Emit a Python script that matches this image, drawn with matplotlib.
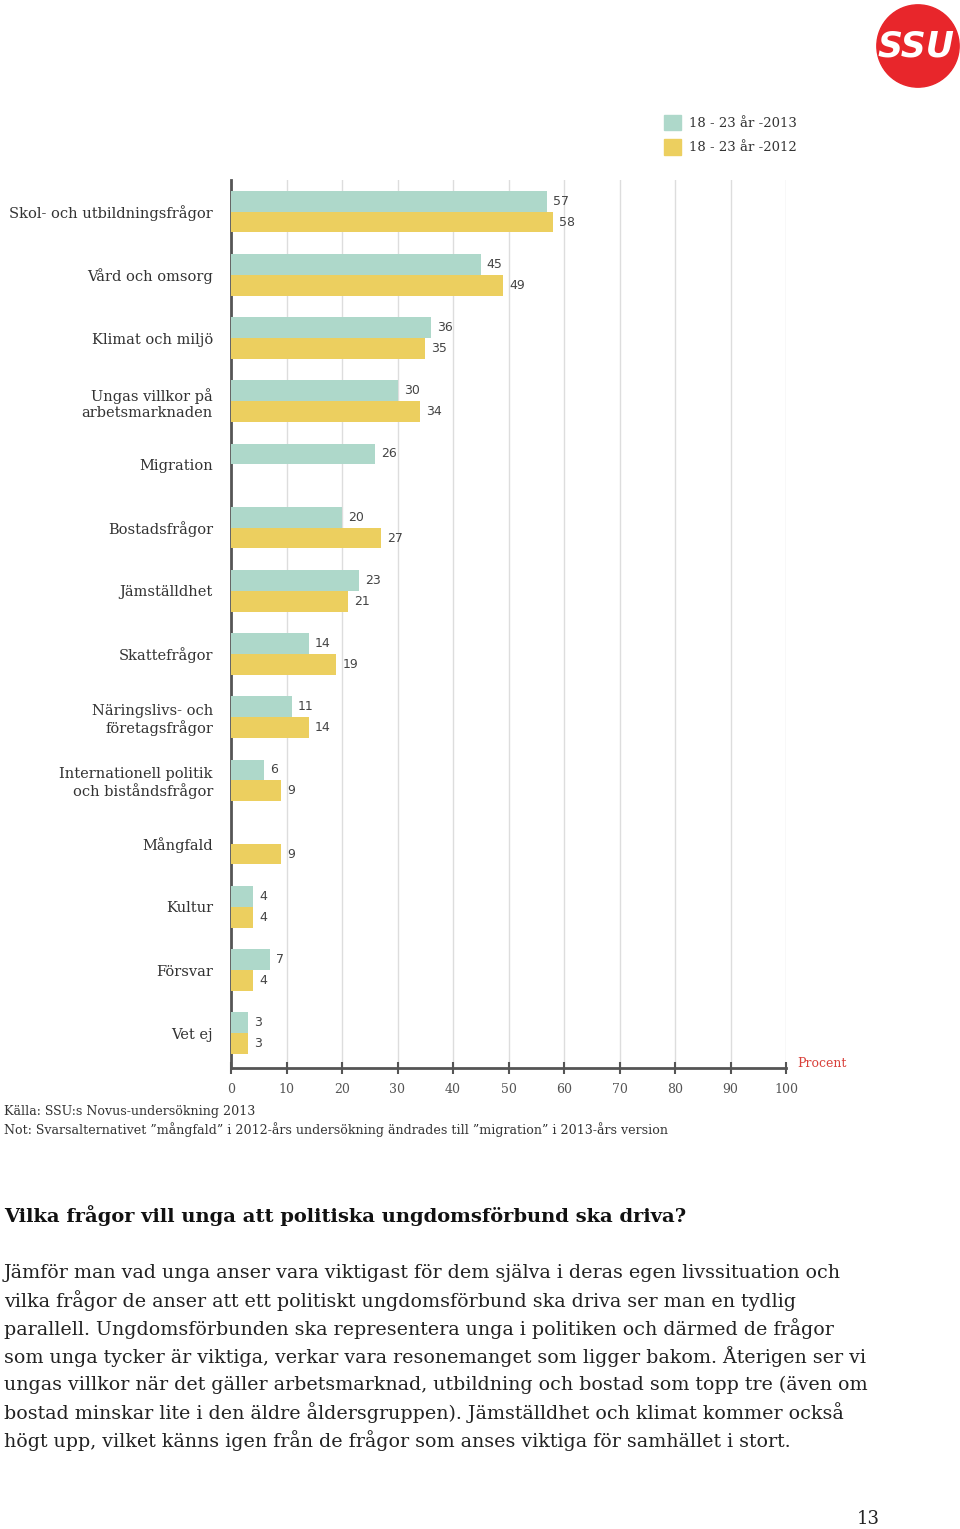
import numpy as np
import matplotlib
matplotlib.use('Agg')
import matplotlib.pyplot as plt
from matplotlib.patches import Patch, Circle

kategorier = ['Skol- och utbildningsfrågor', 'Vård och omsorg', 'Klimat och miljö',
              'Ungas villkor på\narbetsmarknaden', 'Migration', 'Bostadsfrågor',
              'Jämställdhet', 'Skattefrågor', 'Näringslivs- och\nföretagsfrågor',
              'Internationell politik\noch biståndsfrågor', 'Mångfald', 'Kultur',
              'Försvar', 'Vet ej']
varden_2013 = [57, 45, 36, 30, 26, 20, 23, 14, 11, 6, None, 4, 7, 3]
varden_2012 = [58, 49, 35, 34, None, 27, 21, 19, 14, 9, 9, 4, 4, 3]
serier = ['18 - 23 år -2013', '18 - 23 år -2012']
xticks = [0, 10, 20, 30, 40, 50, 60, 70, 80, 90, 100]

kallor = ['Källa: SSU:s Novus-undersökning 2013',
          'Not: Svarsalternativet ”mångfald” i 2012-års undersökning ändrades till ”migration” i 2013-års version']
rubrik = 'Vilka frågor vill unga att politiska ungdomsförbund ska driva?'
stycke = ['Jämför man vad unga anser vara viktigast för dem själva i deras egen livssituation och',
          'vilka frågor de anser att ett politiskt ungdomsförbund ska driva ser man en tydlig',
          'parallell. Ungdomsförbunden ska representera unga i politiken och därmed de frågor',
          'som unga tycker är viktiga, verkar vara resonemanget som ligger bakom. Återigen ser vi',
          'ungas villkor när det gäller arbetsmarknad, utbildning och bostad som topp tre (även om',
          'bostad minskar lite i den äldre åldersgruppen). Jämställdhet och klimat kommer också',
          'högt upp, vilket känns igen från de frågor som anses viktiga för samhället i stort.']

TEAL = '#aed8ca'
GUL = '#eccf5f'
GRA = '#555555'
SERIF = 'DejaVu Serif'

W, H = 960, 1529
fig = plt.figure(figsize=(W / 100, H / 100), dpi=100)

def fy(px):
    return 1 - px / H

ax = fig.add_axes([231 / W, fy(1068), 555 / W, (1068 - 180) / H])

y = np.arange(len(kategorier))
h = 0.33
for i in range(len(kategorier)):
    if varden_2013[i] is not None:
        ax.barh(y[i] - h / 2, varden_2013[i], height=h, color=TEAL, zorder=3)
        ax.text(varden_2013[i] + 1.1, y[i] - h / 2, str(varden_2013[i]), va='center',
                ha='left', fontsize=9, color='#444444', zorder=4)
    if varden_2012[i] is not None:
        ax.barh(y[i] + h / 2, varden_2012[i], height=h, color=GUL, zorder=3)
        ax.text(varden_2012[i] + 1.1, y[i] + h / 2, str(varden_2012[i]), va='center',
                ha='left', fontsize=9, color='#444444', zorder=4)

ax.set_xlim(0, 100)
ax.set_ylim(13.55, -0.5)
ax.set_yticks(y)
ax.set_yticklabels(kategorier, fontsize=10.5, family=SERIF, color='#333333')
ax.tick_params(axis='y', length=0, pad=13)
ax.set_xticks(xticks)
ax.set_xticklabels([str(t) for t in xticks], fontsize=9, family=SERIF, color=GRA)
ax.tick_params(axis='x', direction='inout', length=9, width=1.5, color=GRA, pad=6)
ax.xaxis.grid(True, color='#dddddd', lw=1, zorder=0)
ax.spines['top'].set_visible(False)
ax.spines['right'].set_visible(False)
ax.spines['left'].set_color(GRA)
ax.spines['left'].set_linewidth(2)
ax.spines['bottom'].set_color(GRA)
ax.spines['bottom'].set_linewidth(2)
ax.text(102, 13.48, 'Procent', color='#d9413b', fontsize=9, family=SERIF,
        va='center', ha='left', clip_on=False)

handtag = [Patch(color=TEAL), Patch(color=GUL)]
fig.legend(handtag, serier, loc='upper left', bbox_to_anchor=(652 / W, fy(103)),
           frameon=False, prop={'family': SERIF, 'size': 9.5}, handlelength=1.3,
           handleheight=1.4, handletextpad=0.6, labelspacing=0.7, labelcolor='#333333')

# logo
lax = fig.add_axes([876 / W, fy(88), 84 / W, 84 / H])
lax.set_xlim(-1, 1)
lax.set_ylim(-1, 1)
lax.set_aspect('equal')
lax.axis('off')
lax.add_patch(Circle((0, 0), 0.98, color='#e8262b'))
lax.text(-0.05, -0.02, 'SSU', color='white', fontsize=25, fontweight='bold', style='italic',
         ha='center', va='center', family='DejaVu Sans')

fig.text(4 / W, fy(1111), kallor[0], fontsize=9.1, family=SERIF, color='#333333', va='center')
fig.text(4 / W, fy(1130), kallor[1], fontsize=9.1, family=SERIF, color='#333333', va='center')

fig.text(4 / W, fy(1216), rubrik, fontsize=14, fontweight='bold', family=SERIF,
         color='#111111', va='center')
for k, rad in enumerate(stycke):
    fig.text(4 / W, fy(1273 + 28 * k), rad, fontsize=13.7, family=SERIF, color='#222222',
             va='center')

fig.text(880 / W, fy(1519), '13', fontsize=13, family=SERIF, color='#222222',
         va='center', ha='right')

fig.savefig('out.png', dpi=100)
